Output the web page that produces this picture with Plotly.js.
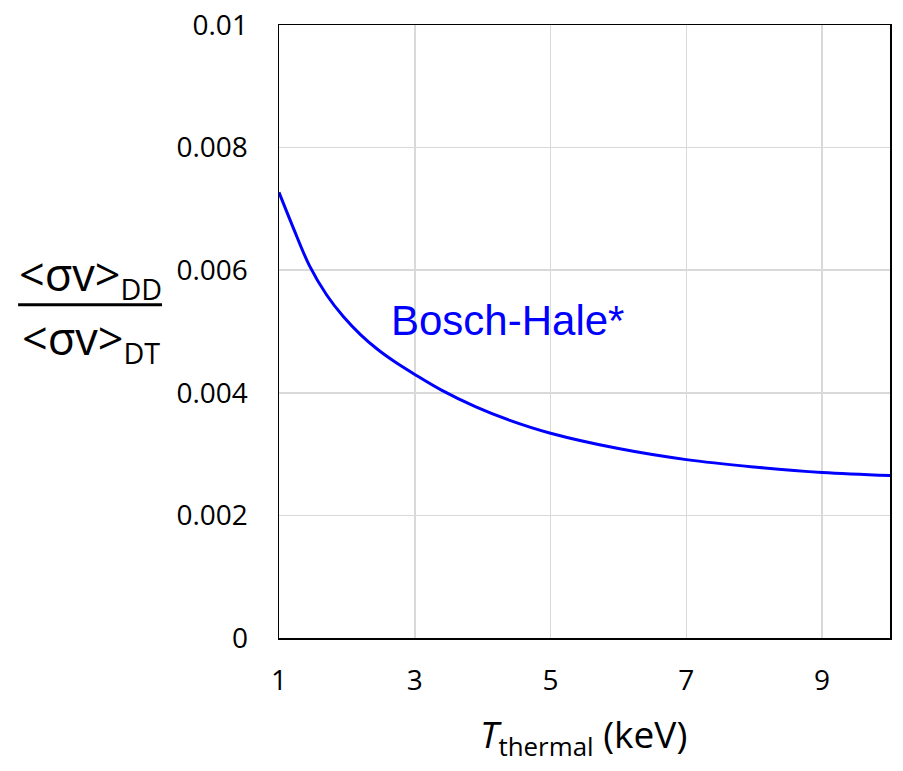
<!DOCTYPE html>
<html>
<head>
<meta charset="utf-8">
<script src="https://cdn.plot.ly/plotly-3.0.1.min.js"></script>
<style>html,body{margin:0;padding:0;background:#fff;}#chart{width:903px;height:771px;}</style>
</head>
<body>
<div id="chart"></div>
<script>
const temperature = [1, 1.2, 1.45, 1.7, 1.95, 2.2, 2.45, 2.7, 3, 3.4, 3.9, 4.4, 5, 6, 7, 8, 9, 10];
const ratio = [0.00727, 0.00672, 0.00607, 0.00560, 0.00524, 0.00495, 0.00471, 0.00451, 0.00430, 0.00404, 0.00377, 0.00355, 0.00334, 0.00309, 0.00291, 0.00279, 0.00270, 0.00265];
const xTicks = [1, 3, 5, 7, 9];
const yTicks = [0, 0.002, 0.004, 0.006, 0.008, 0.01];
const yTickText = ['0', '0.002', '0.004', '0.006', '0.008', '0.01'];
const seriesLabel = 'Bosch-Hale*';

const tickFont = {family: 'Open Sans, sans-serif', size: 28, color: '#000'};
const titleFont = {family: 'Open Sans, sans-serif', size: 37, color: '#000'};
const fracFont = {family: 'Open Sans, sans-serif', size: 41, color: '#000'};

const trace = {
  x: temperature, y: ratio, type: 'scatter', mode: 'lines',
  line: {color: '#0000ff', width: 3, shape: 'spline', smoothing: 1},
  hoverinfo: 'skip', showlegend: false
};

const layout = {
  width: 903, height: 771,
  margin: {l: 279, r: 13, t: 25, b: 132.5},
  paper_bgcolor: '#fff', plot_bgcolor: '#fff',
  showlegend: false,
  xaxis: {
    range: [1, 10], tickvals: xTicks, ticktext: xTicks.map(String),
    showgrid: true, gridcolor: '#d9d9d9', gridwidth: 1.5,
    zeroline: false, showline: true, linecolor: '#000', linewidth: 1.5, mirror: true,
    ticks: 'outside', ticklen: 17, tickcolor: 'rgba(0,0,0,0)',
    tickfont: tickFont
  },
  yaxis: {
    range: [0, 0.01], tickvals: yTicks, ticktext: yTickText,
    showgrid: true, gridcolor: '#d9d9d9', gridwidth: 1.5,
    zeroline: false, showline: true, linecolor: '#000', linewidth: 1.5, mirror: true,
    ticks: 'outside', ticklen: 24, tickcolor: 'rgba(0,0,0,0)',
    tickfont: tickFont
  },
  shapes: [{
    type: 'line', xref: 'paper', yref: 'paper',
    x0: -0.427, x1: -0.1915, y0: 0.5436, y1: 0.5436,
    line: {color: '#000', width: 3}
  }],
  annotations: [
    {text: seriesLabel, xref: 'x', yref: 'y', x: 4.36, y: 0.00518, showarrow: false,
     xanchor: 'center', yanchor: 'middle', font: {family: 'Liberation Sans, Arial, sans-serif', size: 42, color: '#0000ff'}},
    {text: '<span style="font-size:45px">&lt;σv&gt;</span><sub>DD</sub>', xref: 'paper', yref: 'paper', x: -0.308, y: 0.592, showarrow: false,
     xanchor: 'center', yanchor: 'middle', font: fracFont},
    {text: '<span style="font-size:45px">&lt;σv&gt;</span><sub>DT</sub>', xref: 'paper', yref: 'paper', x: -0.308, y: 0.487, showarrow: false,
     xanchor: 'center', yanchor: 'middle', font: fracFont},
    {text: '<i>T</i><sub>thermal</sub> (keV)', xref: 'paper', yref: 'paper', x: 0.499, y: -0.16, showarrow: false,
     xanchor: 'center', yanchor: 'middle', font: titleFont}
  ]
};

Plotly.newPlot('chart', [trace], layout, {staticPlot: true, displayModeBar: false});
</script>
</body>
</html>
